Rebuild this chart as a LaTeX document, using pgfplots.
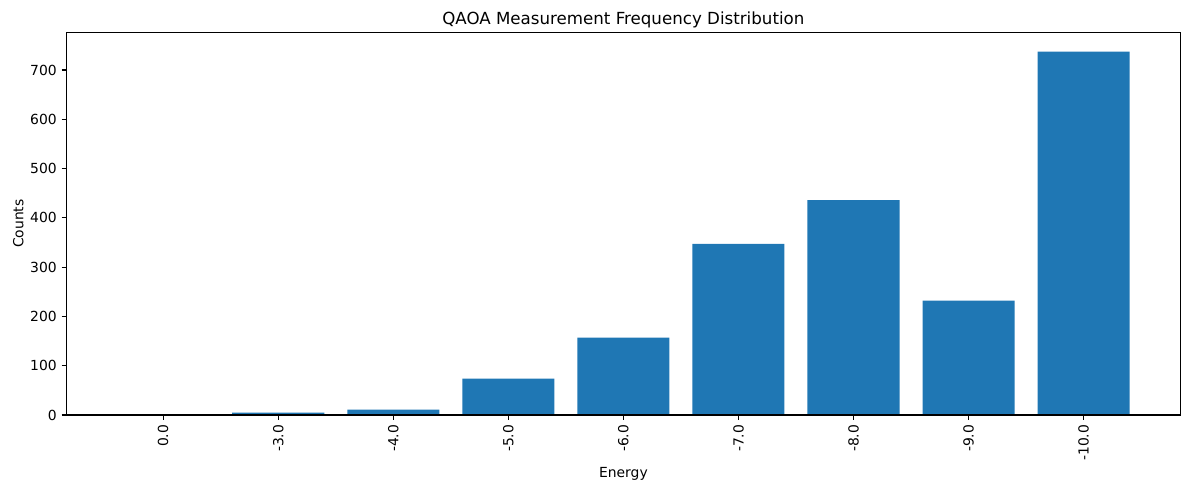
\documentclass[border=0pt]{standalone}
\usepackage{pgfplots}
\pgfplotsset{compat=1.18}
\usepackage{fontspec}
\setmainfont{DejaVu Sans}
\definecolor{mplblue}{HTML}{1F77B4}
\begin{document}
\begin{tikzpicture}
\begin{axis}[
  at={(0,0)}, anchor=south west,
  scale only axis,
  width=801.9pt, height=275.4pt,
  xmin=-0.84, xmax=8.84,
  ymin=0, ymax=776,
  axis on top,
  axis line style={line width=0.8pt},
  xtick={0,1,2,3,4,5,6,7,8},
  xticklabels={0.0,-3.0,-4.0,-5.0,-6.0,-7.0,-8.0,-9.0,-10.0},
  x tick label style={rotate=90, anchor=east, font=\fontsize{10}{12}\selectfont},
  ytick={0,100,200,300,400,500,600,700},
  y tick label style={font=\fontsize{10}{12}\selectfont},
  /pgf/number format/assume math mode=true,
  tick align=outside,
  tick pos=left,
  major tick length=3.5pt,
  tick style={line width=0.8pt, black},
  xlabel={Energy},
  ylabel={Counts},
  label style={font=\fontsize{10}{12}\selectfont},
  xlabel style={yshift=2pt},
  ylabel style={yshift=-2pt},
  title={QAOA Measurement Frequency Distribution},
  title style={font=\fontsize{12}{14}\selectfont, yshift=-6pt},
]
\addplot[ybar, bar width=0.8, fill=mplblue, draw=none] coordinates {
(0,1) (1,5) (2,11) (3,74) (4,157) (5,347) (6,436) (7,232) (8,737)
};
\end{axis}
\useasboundingbox (-47.9pt,-54pt) rectangle (808.2pt,298.8pt);
\end{tikzpicture}
\end{document}
